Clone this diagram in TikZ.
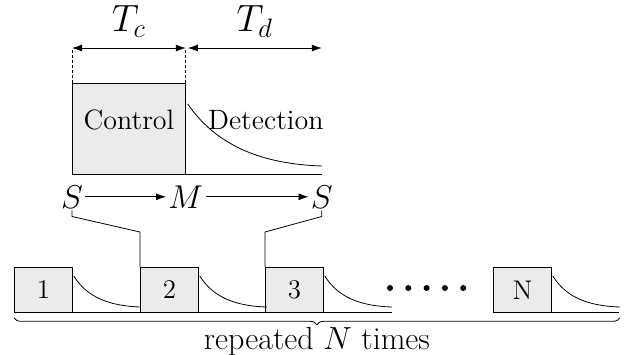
\RequirePackage{fix-cm}
\documentclass[tikz,border=0pt]{standalone}
\usepackage{fontspec}
\usetikzlibrary{calc, positioning}
\usetikzlibrary{arrows.meta}
\usetikzlibrary{decorations.pathreplacing}

\tikzset{
  slotbox/.style={draw, fill=black!8, anchor=north west, inner sep=0pt,
    minimum width=29pt, minimum height=22.5pt, font=\fontsize{13.5}{16}\selectfont},
  statenode/.style={inner sep=1pt, font=\fontsize{16.5}{19}\selectfont},
  durlabel/.style={inner sep=1pt, font=\fontsize{19}{22}\selectfont},
  timeline/.style={dash pattern=on 1.5pt off 1pt},
  tail/.style={line cap=round},
}

\begin{document}
\begin{tikzpicture}[x=0.5pt, y=-0.5pt, line join=round,
  >={Latex[length=5pt, width=3.5pt]}, font=\fontsize{14}{17}\selectfont]
\useasboundingbox (0,0) rectangle (640,354);

% One cycle: control then detection
\node[draw, fill=black!8, anchor=north west, inner sep=0pt,
  minimum width=56.5pt, minimum height=45.5pt] (ctrl) at (72,83) {};
\node (ctrltxt) at ($(ctrl.center)+(0,-9)$) {Control};
\node (dettxt) at ($(ctrl.east)+(80,-9)$) {Detection};
\coordinate (detend) at ($(ctrl.south east)+(136,0)$);
\draw (ctrl.south east) -- (detend);
\draw[tail] ($(ctrl.north east)+(2,21)$) .. controls ($(ctrl.north east)+(30,62)$)
  and ($(ctrl.north east)+(75,81)$) .. ($(ctrl.north east)+(136,83)$);

% Durations
\draw[timeline] (ctrl.north west) -- ++(0,-35) coordinate (tcl);
\draw[timeline] (ctrl.north east) -- ++(0,-35) coordinate (tcr);
\coordinate (tdl) at ($(tcr)+(2,0)$);
\coordinate (tdr) at ($(tcr)+(136,0)$);
\draw[<->] (tcl) -- (tcr) node[midway, above=4pt, durlabel] (tc) {$T_c$};
\draw[<->] (tdl) -- (tdr) node[midway, above=4pt, durlabel] (td) {$T_d$};

% States
\node[statenode] (s1) at ($(ctrl.south west)+(0,22)$) {$S$};
\node[statenode] (m) at ($(ctrl.south east)+(0,22)$) {$M$};
\node[statenode] (s2) at ($(detend)+(0,22)$) {$S$};
\draw[->] (s1) -- (m);
\draw[->] (m) -- (s2);

% Repeated cycles
\node[slotbox] (box1) at (14,267) {1};
\node[slotbox] (box2) at (140,267) {2};
\node[slotbox] (box3) at (265,267) {3};
\node[slotbox] (boxN) at (493,267) {N};
\foreach \b in {box1, box2, box3, boxN}
  \draw[tail] ($(\b.north east)+(1,9)$) .. controls ($(\b.north east)+(14,30)$)
    and ($(\b.north east)+(36,39)$) .. ($(\b.north east)+(68,40)$);
\draw (box1.south west) -- ($(box3.south east)+(68,0)$);
\draw (boxN.south west) -- ($(boxN.south east)+(67,0)$);
\foreach \i in {0,...,4}
  \fill (390+18.3*\i,288) circle (1.5pt);

% Zoom-in lines
\draw (s1.south) -- ($(s1.south)+(0,6)$) -- ($(box2.north west)+(0,-35)$) -- (box2.north west);
\draw (s2.south) -- ($(s2.south)+(0,6)$) -- ($(box3.north west)+(0,-35)$) -- (box3.north west);

% Brace
\draw[decorate, decoration={brace, mirror, amplitude=3.5pt}]
  ($(box1.south west)+(0,5)$) -- ($(boxN.south east)+(68,5)$)
  node[midway, below=1pt, font=\fontsize{16}{19}\selectfont] (reps) {repeated $N$ times};
\end{tikzpicture}
\end{document}
